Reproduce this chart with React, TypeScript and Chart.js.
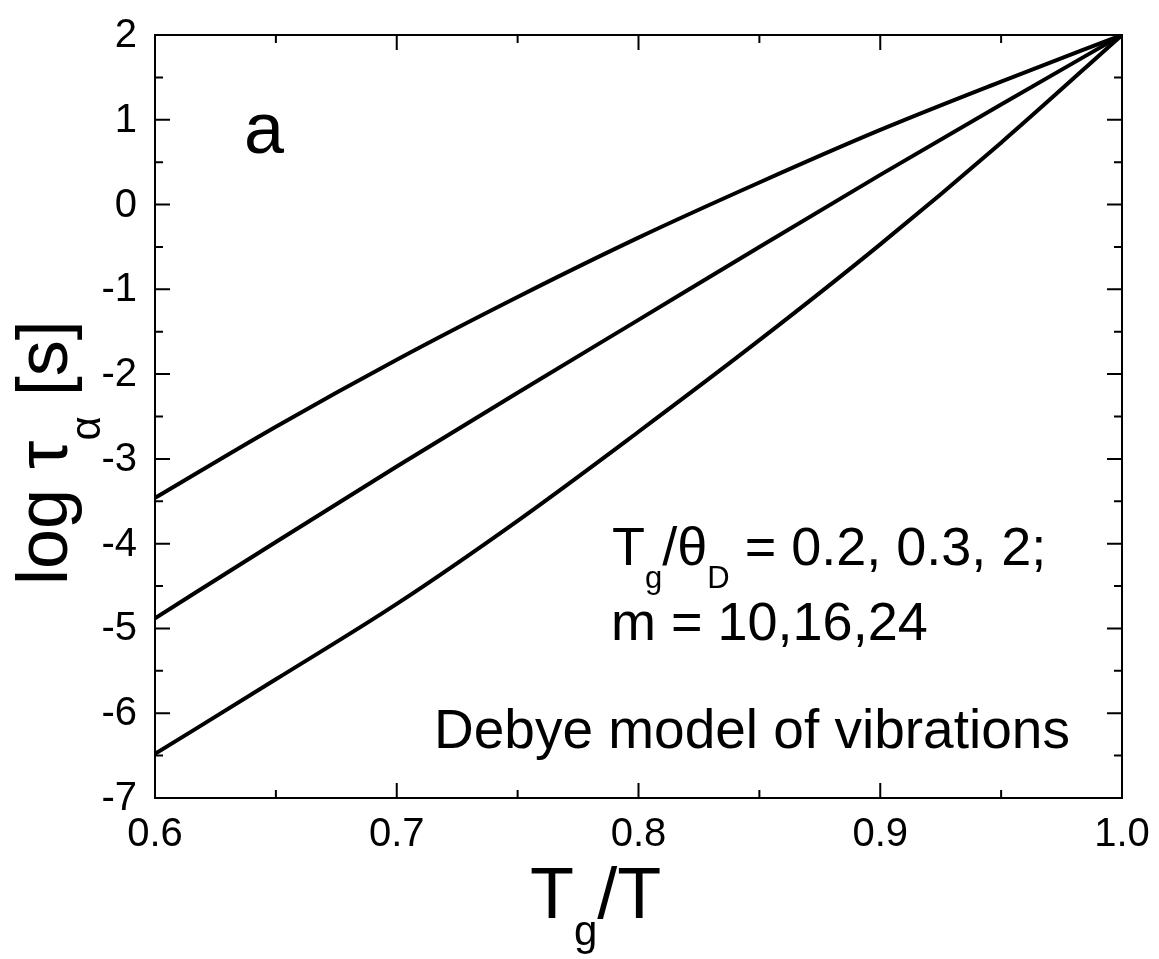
import React, { useEffect, useRef } from "react";
import { Chart, registerables } from "chart.js";

Chart.register(...registerables);

// ---- data ----
const xValues = [0.6, 0.65, 0.7, 0.75, 0.8, 0.85, 0.9, 0.95, 1.0];
const curveTop = [-3.46, -2.62, -1.83, -1.09, -0.39, 0.26, 0.88, 1.45, 2.0];
const curveMiddle = [-4.88, -3.98, -3.09, -2.22, -1.36, -0.5, 0.35, 1.18, 2.0];
const curveBottom = [-6.48, -5.6, -4.71, -3.73, -2.68, -1.6, -0.47, 0.73, 2.0];

const xMajorTicks = [0.6, 0.7, 0.8, 0.9, 1.0];
const xMinorTicks = [0.65, 0.75, 0.85, 0.95];
const yMajorTicks = [2, 1, 0, -1, -2, -3, -4, -5, -6, -7];
const yMinorTicks = [1.5, 0.5, -0.5, -1.5, -2.5, -3.5, -4.5, -5.5, -6.5];

const FONT = "'Liberation Sans', Arial, sans-serif";

type Run = { t: string; size: number; dy: number };

function drawRuns(ctx: CanvasRenderingContext2D, runs: Run[], x: number, y: number) {
  let cx = x;
  for (const r of runs) {
    ctx.font = `${r.size}px ${FONT}`;
    ctx.fillText(r.t, cx, y + r.dy);
    cx += ctx.measureText(r.t).width;
  }
}

const framePlugin = {
  id: "frameAndText",
  afterDraw(chart: any) {
    const ctx: CanvasRenderingContext2D = chart.ctx;
    const { left, right, top, bottom } = chart.chartArea;
    const xs = chart.scales.x;
    const ys = chart.scales.y;
    ctx.save();
    ctx.strokeStyle = "#000";
    ctx.lineWidth = 2;
    ctx.strokeRect(left, top, right - left, bottom - top);
    const major = 15;
    const minor = 8;
    ctx.beginPath();
    const xt = (v: number, len: number) => {
      const p = xs.getPixelForValue(v);
      ctx.moveTo(p, bottom);
      ctx.lineTo(p, bottom - len);
      ctx.moveTo(p, top);
      ctx.lineTo(p, top + len);
    };
    const yt = (v: number, len: number) => {
      const p = ys.getPixelForValue(v);
      ctx.moveTo(left, p);
      ctx.lineTo(left + len, p);
      ctx.moveTo(right, p);
      ctx.lineTo(right - len, p);
    };
    xMajorTicks.forEach((v) => xt(v, major));
    xMinorTicks.forEach((v) => xt(v, minor));
    yMajorTicks.forEach((v) => yt(v, major));
    yMinorTicks.forEach((v) => yt(v, minor));
    ctx.stroke();

    ctx.fillStyle = "#000";

    // tick labels
    ctx.font = `40px ${FONT}`;
    ctx.textAlign = "center";
    ctx.textBaseline = "alphabetic";
    xMajorTicks.forEach((v) => {
      ctx.fillText(v.toFixed(1), xs.getPixelForValue(v), bottom + 48);
    });
    ctx.textAlign = "right";
    ctx.textBaseline = "middle";
    yMajorTicks.forEach((v) => {
      ctx.fillText(String(v), left - 18, ys.getPixelForValue(v) + 1);
    });

    ctx.textBaseline = "alphabetic";
    ctx.textAlign = "left";

    // panel letter
    drawRuns(ctx, [{ t: "a", size: 72, dy: 0 }], 244, 153);

    // annotations
    drawRuns(
      ctx,
      [
        { t: "T", size: 54, dy: 0 },
        { t: "g", size: 31, dy: 23 },
        { t: "/\u03b8", size: 54, dy: 0 },
        { t: "D", size: 31, dy: 23 },
        { t: " = 0.2, 0.3, 2;", size: 54, dy: 0 },
      ],
      612,
      565
    );
    drawRuns(ctx, [{ t: "m = 10,16,24", size: 54, dy: 0 }], 611, 640);
    drawRuns(ctx, [{ t: "Debye model of vibrations", size: 55, dy: 0 }], 434, 748);

    // x title
    drawRuns(
      ctx,
      [
        { t: "T", size: 72, dy: 0 },
        { t: "g", size: 42, dy: 27 },
        { t: "/T", size: 72, dy: 0 },
      ],
      530,
      918
    );

    // y title (rotated)
    ctx.translate(67, 585);
    ctx.rotate(-Math.PI / 2);
    drawRuns(
      ctx,
      [
        { t: "log \u03c4", size: 72, dy: 0 },
        { t: "\u03b1", size: 42, dy: 33 },
        { t: " [s]", size: 72, dy: 0 },
      ],
      0,
      0
    );
    ctx.restore();
  },
};

export default function App() {
  const ref = useRef<HTMLCanvasElement | null>(null);
  useEffect(() => {
    if (!ref.current) return;
    const mk = (data: number[]) => ({
      data: xValues.map((x, i) => ({ x, y: data[i] })),
      borderColor: "#000",
      borderWidth: 4,
      pointRadius: 0,
      pointHoverRadius: 0,
      fill: false,
      cubicInterpolationMode: "monotone" as const,
    });
    const chart = new Chart(ref.current, {
      type: "line",
      data: { datasets: [mk(curveTop), mk(curveMiddle), mk(curveBottom)] },
      plugins: [framePlugin],
      options: {
        responsive: false,
        animation: false,
        devicePixelRatio: 1,
        layout: { autoPadding: false, padding: { top: 35, right: 37, left: 0, bottom: 0 } },
        plugins: { legend: { display: false }, tooltip: { enabled: false } },
        scales: {
          x: {
            type: "linear",
            min: 0.6,
            max: 1.0,
            afterBuildTicks: (s: any) => {
              s.ticks = xMajorTicks.map((v) => ({ value: v }));
            },
            afterFit: (s: any) => {
              s.height = 161;
            },
            grid: { display: false, drawTicks: false },
            border: { display: false },
            ticks: { display: false },
          },
          y: {
            type: "linear",
            min: -7,
            max: 2,
            afterBuildTicks: (s: any) => {
              s.ticks = yMajorTicks.map((v) => ({ value: v }));
            },
            afterFit: (s: any) => {
              s.width = 155;
            },
            grid: { display: false, drawTicks: false },
            border: { display: false },
            ticks: { display: false },
          },
        },
      },
    });
    return () => chart.destroy();
  }, []);
  return (
    <div style={{ position: "absolute", left: 0, top: 0, width: 1159, height: 959, background: "#fff" }}>
      <canvas ref={ref} width={1159} height={959} />
    </div>
  );
}
